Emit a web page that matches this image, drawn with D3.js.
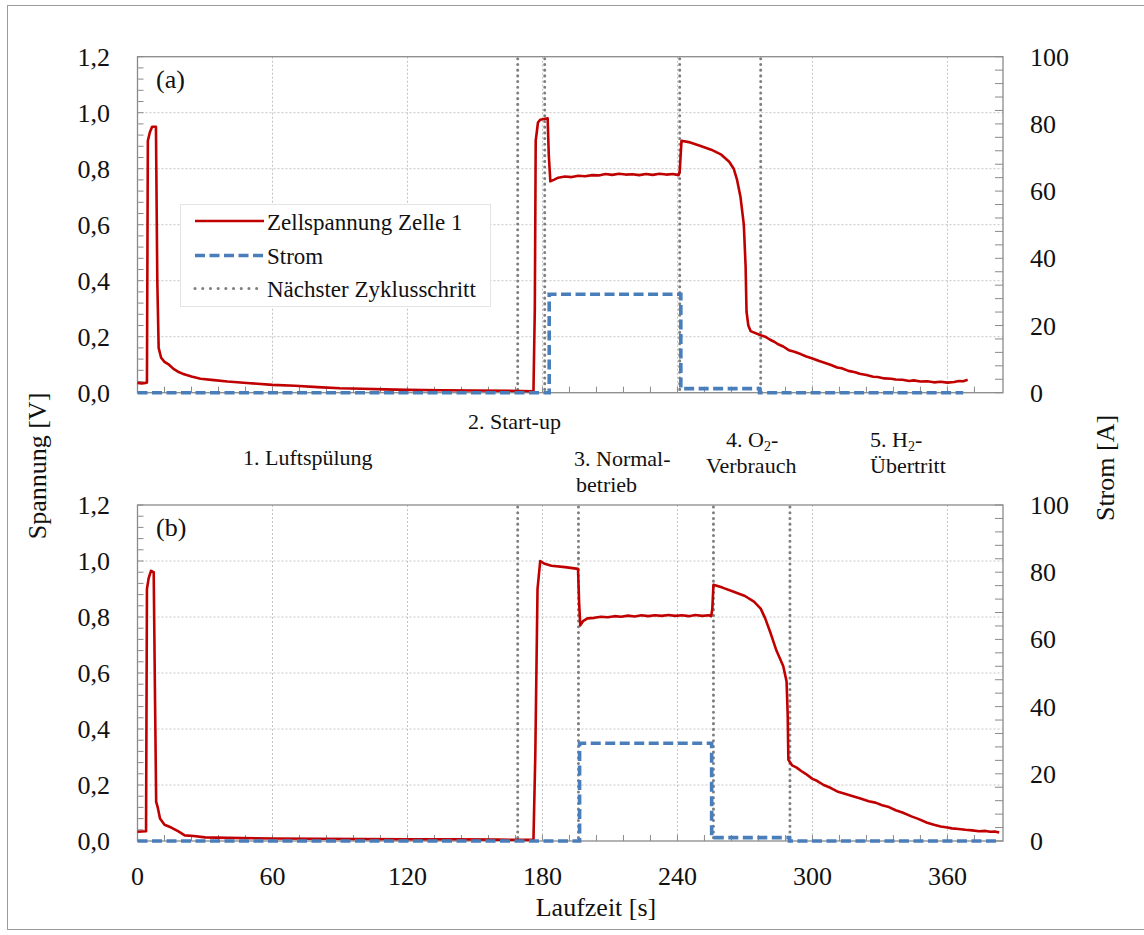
<!DOCTYPE html>
<html>
<head>
<meta charset="utf-8">
<script src="https://cdn.jsdelivr.net/npm/d3@7"></script>
<style>
  html, body { margin: 0; padding: 0; background: #fff; }
  svg { display: block; }
  svg text { font-family: "Liberation Serif", "Times New Roman", serif; }
</style>
</head>
<body>
<svg id="chart" width="1144" height="935"></svg>
<script>
// ---- Zyklus (a): Zellspannung [s, V] ----
const spannungA = [
  [0, 0.035], [2, 0.033], [4.2, 0.036], [4.6, 0.90], [5.5, 0.93], [6.5, 0.95], [8.2, 0.95], [8.8, 0.40], [9.4, 0.16],
  [10.5, 0.125], [12, 0.11], [14, 0.10], [16, 0.085], [18, 0.075], [20, 0.068], [24, 0.058], [28, 0.05], [34, 0.045],
  [40, 0.04], [50, 0.034], [60, 0.028], [70, 0.025], [80, 0.02], [90, 0.016], [100, 0.014], [110, 0.012], [120, 0.01],
  [135, 0.009], [150, 0.008], [165, 0.007], [176, 0.005],
  [176.6, 0.3], [177, 0.9], [178, 0.965], [179, 0.975], [182.3, 0.98], [182.8, 0.85], [183.5, 0.755], [185, 0.76],
  [187, 0.768], [190, 0.772], [193, 0.77], [196, 0.775], [199, 0.773], [202, 0.777], [205, 0.776], [208, 0.781],
  [211, 0.778], [214, 0.782], [217, 0.779], [220, 0.78], [223, 0.777], [226, 0.781], [229, 0.778], [232, 0.782],
  [235, 0.779], [238, 0.781], [240.5, 0.777],
  [241, 0.79], [241.8, 0.9], [245, 0.895], [250, 0.882], [255, 0.868], [259.5, 0.85], [263, 0.825], [265, 0.80],
  [266.5, 0.76], [268, 0.70], [269.5, 0.60], [270.3, 0.45], [270.7, 0.29], [271.5, 0.24], [272.5, 0.22],
  [277, 0.205], [279, 0.2], [281, 0.19], [283, 0.182], [285, 0.172], [287, 0.165], [289.5, 0.152], [292, 0.146],
  [295, 0.137], [297, 0.13], [300, 0.122], [303, 0.113], [305, 0.108], [308, 0.1], [311, 0.09], [313, 0.087],
  [316, 0.078], [319, 0.073], [321, 0.068], [324, 0.063], [327, 0.057], [329, 0.056], [332, 0.051], [335, 0.05],
  [337, 0.047], [340, 0.046], [343, 0.042], [345, 0.044], [348, 0.04], [351, 0.041], [354, 0.037], [357, 0.039],
  [360, 0.036], [363, 0.038], [365, 0.042], [367, 0.041], [369, 0.046]
];
// ---- Zyklus (a): Strom [s, A] ----
const stromA = [[0, 0], [183, 0], [183, 29.3], [241.5, 29.3], [241.5, 1.2], [276.5, 1.2], [276.5, 0], [367, 0]];
const schritteA = [169, 181, 241, 277];

// ---- Zyklus (b): Zellspannung [s, V] ----
const spannungB = [
  [0, 0.033], [3.8, 0.035], [4.2, 0.90], [5, 0.94], [6, 0.965], [7.2, 0.96], [7.8, 0.5], [8.3, 0.14], [9, 0.12],
  [10, 0.08], [12, 0.058], [15, 0.048], [18, 0.035], [21, 0.02], [25, 0.018], [30, 0.013], [40, 0.011], [60, 0.009],
  [80, 0.008], [100, 0.007], [120, 0.006], [140, 0.006], [160, 0.005], [176, 0.004],
  [176.8, 0.3], [177.8, 0.9], [179, 1.0], [181, 0.99], [184, 0.983], [190, 0.978], [195.8, 0.972], [196.3, 0.85],
  [196.8, 0.77], [198, 0.785], [200, 0.795], [203, 0.797], [206, 0.801], [209, 0.799], [212, 0.803], [215, 0.801],
  [218, 0.805], [221, 0.802], [224, 0.806], [227, 0.803], [230, 0.806], [233, 0.804], [236, 0.807], [239, 0.804],
  [242, 0.806], [245, 0.803], [248, 0.807], [251, 0.804], [254, 0.806], [255, 0.803],
  [255.5, 0.83], [256, 0.915], [260, 0.905], [265, 0.89], [270, 0.875], [274, 0.855], [277, 0.83], [279, 0.795],
  [281.5, 0.74], [284, 0.68], [287, 0.625], [288.5, 0.57], [289, 0.45], [289.3, 0.29],
  [291, 0.27], [293, 0.262], [295, 0.25], [297, 0.24], [300, 0.222], [302, 0.215], [305, 0.2], [308, 0.19],
  [311, 0.177], [314, 0.17], [318, 0.16], [321, 0.153], [325, 0.142], [328, 0.137], [331, 0.128], [334, 0.121],
  [337, 0.11], [340, 0.102], [344, 0.088], [347, 0.079], [351, 0.065], [354, 0.058], [357, 0.052], [360, 0.048],
  [362, 0.045], [365, 0.043], [368, 0.04], [371, 0.038], [374, 0.035], [377, 0.036], [379, 0.033], [381, 0.034], [383, 0.03]
];
// ---- Zyklus (b): Strom [s, A] ----
const stromB = [[0, 0], [196.5, 0], [196.5, 29.1], [255.2, 29.1], [255.2, 1.0], [289.8, 1.0], [289.8, 0], [383, 0]];
const schritteB = [169, 196, 256, 290];

// ---- Achsen ----
const zeitTicks     = [0, 60, 120, 180, 240, 300, 360];
const spannungTicks = [0, 0.2, 0.4, 0.6, 0.8, 1.0, 1.2];
const stromTicks    = [0, 20, 40, 60, 80, 100];

const legendLabels = ["Zellspannung Zelle 1", "Strom", "Nächster Zyklusschritt"];

const RED = "#c00000", BLUE = "#4a7ebb", GRAY = "#7f7f7f", FRAME = "#8a8a8a", GRID = "#c4c4c4";
const FONT = "Liberation Serif";

const svg = d3.select("#chart");
const left = 137.5, right = 1003;
const x = d3.scaleLinear().domain([0, 384.7]).range([left, right]);

// outer border
svg.append("rect").attr("x", 7.5).attr("y", 5.5).attr("width", 1145).attr("height", 924)
  .attr("fill", "none").attr("stroke", "#9a9a9a").attr("stroke-width", 1);

function panel(top, spannung, strom, schritte, tag, showXLabels) {
  const bottom = top + 336;
  const y = d3.scaleLinear().domain([0, 1.2]).range([bottom, top]);
  const y2 = d3.scaleLinear().domain([0, 100]).range([bottom, top]);
  const g = svg.append("g").attr("font-family", FONT);

  // gridlines
  g.append("g").selectAll("line").data(zeitTicks.filter(t => t > 0)).join("line")
    .attr("x1", d => x(d)).attr("x2", d => x(d)).attr("y1", top).attr("y2", bottom)
    .attr("stroke", GRID).attr("stroke-width", 1).attr("stroke-dasharray", "2,2");
  g.append("g").selectAll("line").data(spannungTicks.filter(v => v > 0 && v < 1.2)).join("line")
    .attr("x1", left).attr("x2", right).attr("y1", d => y(d)).attr("y2", d => y(d))
    .attr("stroke", GRID).attr("stroke-width", 1).attr("stroke-dasharray", "2,2");

  // minor ticks (inward)
  g.append("g").selectAll("line").data(d3.range(0, 1.2001, 0.04)).join("line")
    .attr("x1", left).attr("x2", left + 6).attr("y1", d => y(d)).attr("y2", d => y(d))
    .attr("stroke", FRAME).attr("stroke-width", 1);
  g.append("g").selectAll("line").data(d3.range(0, 100.01, 4)).join("line")
    .attr("x1", right).attr("x2", right - 8).attr("y1", d => y2(d)).attr("y2", d => y2(d))
    .attr("stroke", FRAME).attr("stroke-width", 1);
  g.append("g").selectAll("line").data(d3.range(0, 384, 12)).join("line")
    .attr("x1", d => x(d)).attr("x2", d => x(d)).attr("y1", bottom).attr("y2", bottom - 6)
    .attr("stroke", FRAME).attr("stroke-width", 1);

  // frame
  g.append("rect").attr("x", left).attr("y", top).attr("width", right - left).attr("height", 336)
    .attr("fill", "none").attr("stroke", FRAME).attr("stroke-width", 1.3);

  // cycle step markers
  g.append("g").selectAll("line").data(schritte).join("line")
    .attr("x1", d => x(d)).attr("x2", d => x(d)).attr("y1", top + 2).attr("y2", bottom)
    .attr("stroke", GRAY).attr("stroke-width", 3).attr("stroke-linecap", "round")
    .attr("stroke-dasharray", "0.1,5.6");

  // voltage
  g.append("path").datum(spannung)
    .attr("d", d3.line().x(d => x(d[0])).y(d => y(d[1])))
    .attr("fill", "none").attr("stroke", RED).attr("stroke-width", 2.6).attr("stroke-linejoin", "round");

  // current
  g.append("path").datum(strom)
    .attr("d", d3.line().x(d => x(d[0])).y(d => y2(d[1])))
    .attr("fill", "none").attr("stroke", BLUE).attr("stroke-width", 3.6).attr("stroke-dasharray", "10,4.5");

  // left axis labels
  g.append("g").selectAll("text").data(spannungTicks).join("text")
    .attr("x", 110).attr("y", d => y(d) + 9).attr("text-anchor", "end")
    .attr("font-size", 26).attr("fill", "#111")
    .text(d => d.toFixed(1).replace(".", ","));
  // right axis labels
  g.append("g").selectAll("text").data(stromTicks).join("text")
    .attr("x", 1030).attr("y", d => y2(d) + 9).attr("text-anchor", "start")
    .attr("font-size", 26).attr("fill", "#111")
    .text(d => d);
  if (showXLabels) {
    g.append("g").selectAll("text").data(zeitTicks).join("text")
      .attr("x", d => x(d)).attr("y", bottom + 44).attr("text-anchor", "middle")
      .attr("font-size", 26).attr("fill", "#111")
      .text(d => d);
  }
  g.append("text").attr("x", 156).attr("y", top + 31).attr("font-size", 26).attr("fill", "#111").text(tag);
}

panel(56.7, spannungA, stromA, schritteA, "(a)", false);
panel(505, spannungB, stromB, schritteB, "(b)", true);

// legend
const lg = svg.append("g").attr("font-family", FONT);
lg.append("rect").attr("x", 180.5).attr("y", 204.5).attr("width", 310).attr("height", 102)
  .attr("fill", "#fff").attr("stroke", "#e4e4e4").attr("stroke-width", 1);
const legendRows = [
  { y: 221, stroke: RED, w: 2.6, dash: null, cap: "butt" },
  { y: 255.5, stroke: BLUE, w: 3.6, dash: "10,4.5", cap: "butt" },
  { y: 288.5, stroke: GRAY, w: 3, dash: "0.1,7.6", cap: "round" }
];
legendRows.forEach((r, i) => {
  lg.append("line").attr("x1", 195).attr("x2", 264).attr("y1", r.y).attr("y2", r.y)
    .attr("stroke", r.stroke).attr("stroke-width", r.w).attr("stroke-linecap", r.cap)
    .attr("stroke-dasharray", r.dash);
  lg.append("text").attr("x", 267).attr("y", r.y + 8.5).attr("font-size", 23).attr("fill", "#111")
    .text(legendLabels[i]);
});

// phase labels between the panels
const phase = svg.append("g").attr("font-family", FONT).attr("font-size", 22).attr("fill", "#111");
phase.append("text").attr("x", 243).attr("y", 465).text("1. Luftspülung");
phase.append("text").attr("x", 468).attr("y", 429).text("2. Start-up");
phase.append("text").attr("x", 574).attr("y", 466).text("3. Normal-");
phase.append("text").attr("x", 576).attr("y", 492).text("betrieb");
const o2 = phase.append("text").attr("x", 726).attr("y", 447);
o2.append("tspan").text("4. O");
o2.append("tspan").attr("font-size", 14).attr("dy", 4).text("2");
o2.append("tspan").attr("dy", -4).text("-");
phase.append("text").attr("x", 706).attr("y", 473).text("Verbrauch");
const h2 = phase.append("text").attr("x", 870).attr("y", 447);
h2.append("tspan").text("5. H");
h2.append("tspan").attr("font-size", 14).attr("dy", 4).text("2");
h2.append("tspan").attr("dy", -4).text("-");
phase.append("text").attr("x", 870).attr("y", 473).text("Übertritt");

// axis titles
const titles = svg.append("g").attr("font-family", FONT).attr("font-size", 26).attr("fill", "#111");
titles.append("text").attr("transform", "translate(46,466) rotate(-90)").attr("text-anchor", "middle")
  .text("Spannung [V]");
titles.append("text").attr("transform", "translate(1114,468) rotate(-90)").attr("text-anchor", "middle")
  .text("Strom [A]");
titles.append("text").attr("x", 596).attr("y", 916).attr("text-anchor", "middle")
  .text("Laufzeit [s]");
</script>
</body>
</html>
